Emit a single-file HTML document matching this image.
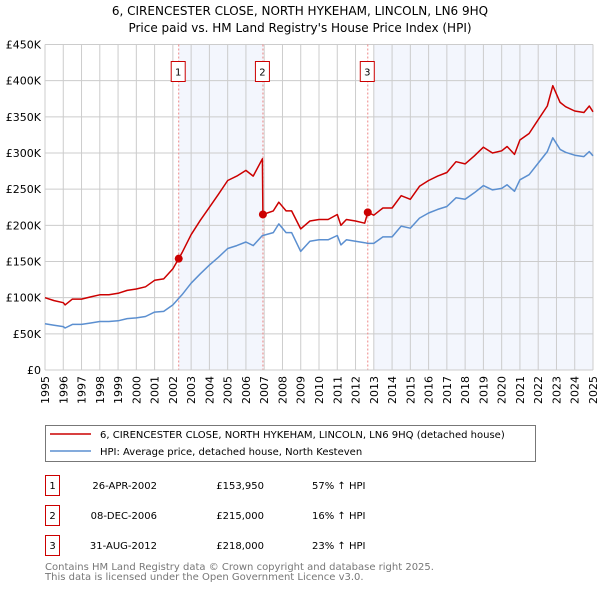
<!DOCTYPE html>
<html><head><meta charset="utf-8"><style>
body{margin:0;background:#fff;}
svg{display:block;font-family:"DejaVu Sans","Liberation Sans",sans-serif;}
</style></head><body>
<svg id="chart" width="600" height="590" viewBox="0 0 600 590" xmlns="http://www.w3.org/2000/svg">
<text x="300" y="15" text-anchor="middle" font-size="12" fill="#000">6, CIRENCESTER CLOSE, NORTH HYKEHAM, LINCOLN, LN6 9HQ</text>
<text x="300" y="32" text-anchor="middle" font-size="12" fill="#000">Price paid vs. HM Land Registry's House Price Index (HPI)</text>
<g id="plot"></g>
<g>
<rect x="45.5" y="425.5" width="490" height="36" fill="#fff" stroke="#777"/>
<line x1="50" y1="434" x2="91" y2="434" stroke="#cc0000" stroke-width="1.5"/>
<text x="100" y="438" font-size="10">6, CIRENCESTER CLOSE, NORTH HYKEHAM, LINCOLN, LN6 9HQ (detached house)</text>
<line x1="50" y1="451" x2="91" y2="451" stroke="#5b8fd0" stroke-width="1.5"/>
<text x="100" y="455" font-size="10">HPI: Average price, detached house, North Kesteven</text>
</g>
<g font-size="10">
<rect x="45.5" y="475.5" width="14" height="20" fill="#fff" stroke="#cc0000"/>
<text x="52.5" y="489" text-anchor="middle">1</text>
<text x="157" y="489" text-anchor="end">26-APR-2002</text>
<text x="264" y="489" text-anchor="end">£153,950</text>
<text x="312" y="489">57% ↑ HPI</text>
<rect x="45.5" y="505.5" width="14" height="20" fill="#fff" stroke="#cc0000"/>
<text x="52.5" y="519" text-anchor="middle">2</text>
<text x="157" y="519" text-anchor="end">08-DEC-2006</text>
<text x="264" y="519" text-anchor="end">£215,000</text>
<text x="312" y="519">16% ↑ HPI</text>
<rect x="45.5" y="535.5" width="14" height="20" fill="#fff" stroke="#cc0000"/>
<text x="52.5" y="549" text-anchor="middle">3</text>
<text x="157" y="549" text-anchor="end">31-AUG-2012</text>
<text x="264" y="549" text-anchor="end">£218,000</text>
<text x="312" y="549">23% ↑ HPI</text>
</g>
<text x="45" y="570" font-size="10" fill="#777">Contains HM Land Registry data © Crown copyright and database right 2025.</text>
<text x="45" y="580" font-size="10" fill="#777">This data is licensed under the Open Government Licence v3.0.</text>
</svg>
<script>
const times=[1995,1995.5,1996,1996.1,1996.5,1997,1997.5,1998,1998.5,1999,1999.5,2000,2000.5,2001,2001.5,2002,2002.32,2002.5,2003,2003.5,2004,2004.5,2005,2005.5,2006,2006.4,2006.9,2006.93,2007.5,2007.8,2008.2,2008.5,2009,2009.5,2010,2010.5,2011,2011.2,2011.5,2012,2012.5,2012.67,2013,2013.5,2014,2014.5,2015,2015.5,2016,2016.5,2017,2017.5,2018,2018.5,2019,2019.5,2020,2020.3,2020.7,2021,2021.5,2022,2022.5,2022.8,2023.2,2023.5,2024,2024.5,2024.8,2025];
const hpiValues=[64,62,60,58,63,63,65,67,67,68,71,72,74,80,81,90,99,104,120,133,145,156,168,172,177,172,186,186,190,202,190,190,164,178,180,180,186,173,180,178,176,175,175,184,184,199,196,210,217,222,226,238,236,245,255,249,251,256,247,263,270,286,302,321,305,301,297,295,302,296];
const propertyValues=[100,96,93,90,98,98,101,104,104,106,110,112,115,124,126,140,154,162,187,207,225,243,262,268,276,268,292,215,220,232,220,220,195,206,208,208,215,200,208,206,203,218,214,224,224,241,236,254,262,268,273,288,285,296,308,300,303,309,298,318,327,346,365,393,370,364,358,356,365,357];
const saleTimes=[2002.32,2006.93,2012.67];
const salePrices=[153.95,215,218];
const saleLabels=["1","2","3"];
const shadeStarts=[2002.32,2013.0];
const shadeEnds=[2006.93,2025];
const yTicks=[0,50,100,150,200,250,300,350,400,450];
const yTickLabels=["£0","£50K","£100K","£150K","£200K","£250K","£300K","£350K","£400K","£450K"];
const xTicks=[1995,1996,1997,1998,1999,2000,2001,2002,2003,2004,2005,2006,2007,2008,2009,2010,2011,2012,2013,2014,2015,2016,2017,2018,2019,2020,2021,2022,2023,2024,2025];

const L=45,R=593,T=44.5,B=370;
const x=t=>L+(t-1995)/(2025-1995)*(R-L);
const y=v=>B-v/450*(B-T);
const NS="http://www.w3.org/2000/svg";
const g=document.getElementById('plot');
function mk(tag,attrs,parent){const e=document.createElementNS(NS,tag);for(const k in attrs)e.setAttribute(k,attrs[k]);(parent||g).appendChild(e);return e;}

for(let i=0;i<shadeStarts.length;i++){
 const r=mk('rect',{x:x(shadeStarts[i]),y:T,width:x(shadeEnds[i])-x(shadeStarts[i]),height:B-T,fill:'#f3f6fd'});
 
 
}
yTicks.forEach((v,i)=>{
 const l=mk('line',{x1:L,x2:R,y1:y(v),y2:y(v),stroke:'#cccccc','stroke-width':1});
 
 
 const t=mk('text',{x:L-4,y:y(v)+4,'text-anchor':'end','font-size':11,fill:'#000'});
 t.textContent=yTickLabels[i];
 
 
});
xTicks.forEach(tk=>{
 const l=mk('line',{x1:x(tk),x2:x(tk),y1:T,y2:B,stroke:'#cccccc','stroke-width':1});
 
 
 const t=mk('text',{transform:`translate(${x(tk)+4},${B+6}) rotate(-90)`,'text-anchor':'end','font-size':11,fill:'#000'});
 t.textContent=String(tk);
 
 
});
saleTimes.forEach((st,i)=>{
 const l=mk('line',{x1:x(st),x2:x(st),y1:T,y2:B,stroke:'#ee8888','stroke-width':1,'stroke-dasharray':'2,2'});
 
 
 const bx=mk('rect',{x:x(st)-7.5,y:61.5,width:14,height:20,fill:'#fff',stroke:'#cc0000'});
 
 
 const tx=mk('text',{x:x(st)-0.5,y:75.5,'text-anchor':'middle','font-size':10});
 tx.textContent=saleLabels[i];
 
 
});
function path(vals,color,name){
 const d=vals.map((v,i)=>(i?'L':'M')+x(times[i]).toFixed(1)+','+y(v).toFixed(1)).join('');
 const p=mk('path',{d:d,fill:'none',stroke:color,'stroke-width':1.5,'stroke-linejoin':'round'});
 
 
}
path(hpiValues,'#5b8fd0','hpi-line');
path(propertyValues,'#cc0000','property-price-line');
saleTimes.forEach((st,i)=>{
 const c=mk('circle',{cx:x(st),cy:y(salePrices[i]),r:4,fill:'#cc0000'});
 
 
});
const ax=mk('line',{x1:L,x2:R,y1:B,y2:B,stroke:'#cccccc'});


</script>
</body></html>
